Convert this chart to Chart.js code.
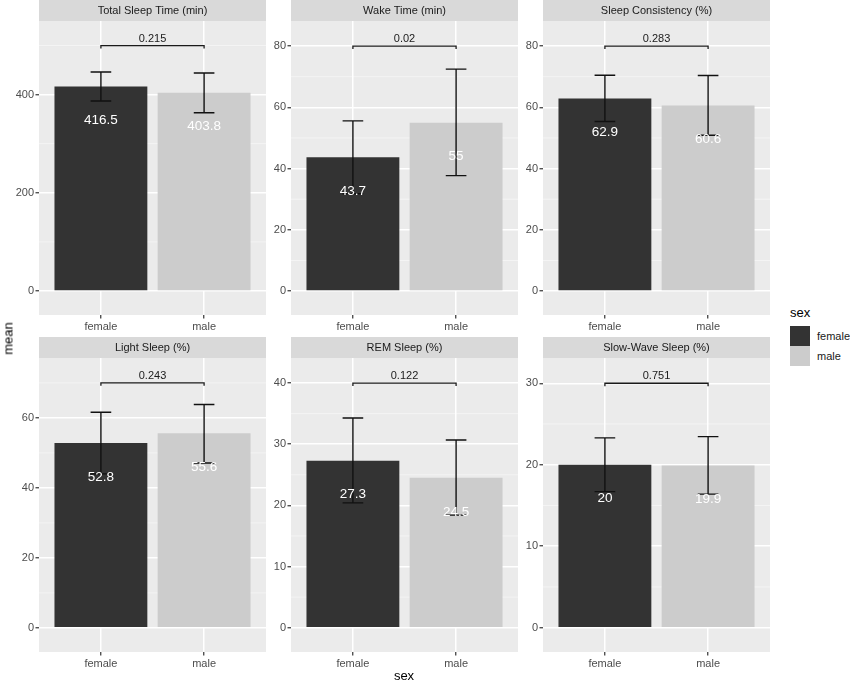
<!DOCTYPE html>
<html><head><meta charset="utf-8">
<script src="https://cdn.jsdelivr.net/npm/chart.js@4/dist/chart.umd.min.js"></script>
<style>
html,body{margin:0;padding:0;background:#fff;}
body{width:850px;height:683px;overflow:hidden;position:relative;font-family:"Liberation Sans",Arial,Helvetica,sans-serif;}
canvas{position:absolute;}
.t{position:absolute;white-space:nowrap;}
</style></head><body>
<script>
// ---------- data ----------
const panelTitles = ['Total Sleep Time (min)','Wake Time (min)','Sleep Consistency (%)','Light Sleep (%)','REM Sleep (%)','Slow-Wave Sleep (%)'];
const categories = ['female','male'];
const meanFemale = [416.5, 43.7, 62.9, 52.8, 27.3, 20];
const meanMale   = [403.8, 55, 60.6, 55.6, 24.5, 19.9];
const ciLowFemale  = [387, 31.8, 55.4, 44.0, 20.4, 16.7];
const ciHighFemale = [446, 55.6, 70.5, 61.6, 34.3, 23.3];
const ciLowMale    = [363, 37.7, 50.9, 47.1, 18.4, 16.4];
const ciHighMale   = [444, 72.5, 70.4, 63.8, 30.7, 23.45];
const pValues = ['0.215','0.02','0.283','0.243','0.122','0.751'];
const bracketY = [500, 80, 80, 70, 40, 30];
const yMin = [-49, -7.8, -7.8, -6.9, -3.98, -2.98];
const yMax = [550, 88.2, 88.2, 77.1, 44.1, 33.1];
const yTicks = [[0,200,400],[0,20,40,60,80],[0,20,40,60,80],[0,20,40,60],[0,10,20,30,40],[0,10,20,30]];
const yMinorTicks = [[100,300,500],[10,30,50,70],[10,30,50,70],[10,30,50,70],[5,15,25,35],[5,15,25]];
const labelValues = [['416.5','403.8'],['43.7','55'],['62.9','60.6'],['52.8','55.6'],['27.3','24.5'],['20','19.9']];

// ---------- style ----------
const FEMALE = '#333333', MALE = '#cccccc';
const FONT = '"Liberation Sans", Arial, Helvetica, sans-serif';
Chart.defaults.font.family = FONT;
Chart.defaults.animation = false;

const colLeft = [0, 252, 504];
const rowTop = [0, 337];
const CW = 266, CH = 335;

const facetPlugin = {
  id: 'facet',
  beforeDraw(chart, args, opts) {
    const i = opts.idx;
    const {ctx, chartArea: a, scales: {y}} = chart;
    ctx.save();
    ctx.fillStyle = '#ebebeb';
    ctx.fillRect(a.left, a.top, a.right - a.left, a.bottom - a.top);
    ctx.fillStyle = '#d9d9d9';
    ctx.fillRect(a.left, a.top - 21, a.right - a.left, 21);
    ctx.fillStyle = '#1a1a1a';
    ctx.font = '11px ' + FONT;
    ctx.textAlign = 'center'; ctx.textBaseline = 'middle';
    ctx.fillText(panelTitles[i], (a.left + a.right) / 2, a.top - 10);
    ctx.strokeStyle = '#f6f6f6'; ctx.lineWidth = 0.8;
    yMinorTicks[i].forEach(v => {
      const py = y.getPixelForValue(v);
      ctx.beginPath(); ctx.moveTo(a.left, py); ctx.lineTo(a.right, py); ctx.stroke();
    });
    ctx.restore();
  },
  afterDatasetsDraw(chart, args, opts) {
    const i = opts.idx;
    const {ctx, scales: {x, y}} = chart;
    const lows = [ciLowFemale[i], ciLowMale[i]];
    const highs = [ciHighFemale[i], ciHighMale[i]];
    const means = [meanFemale[i], meanMale[i]];
    ctx.save();
    ctx.strokeStyle = '#111'; ctx.lineWidth = 1.4;
    [1, 2].forEach((cx, k) => {
      const px = x.getPixelForValue(cx);
      const pl = x.getPixelForValue(cx - 0.1), pr = x.getPixelForValue(cx + 0.1);
      const yl = y.getPixelForValue(lows[k]), yh = y.getPixelForValue(highs[k]);
      ctx.beginPath();
      ctx.moveTo(px, yl); ctx.lineTo(px, yh);
      ctx.moveTo(pl, yl); ctx.lineTo(pr, yl);
      ctx.moveTo(pl, yh); ctx.lineTo(pr, yh);
      ctx.stroke();
    });
    // significance bracket
    const b = y.getPixelForValue(bracketY[i]);
    const x1 = x.getPixelForValue(1), x2 = x.getPixelForValue(2);
    ctx.strokeStyle = '#1a1a1a'; ctx.lineWidth = 1.3;
    ctx.beginPath();
    ctx.moveTo(x1, b + 3); ctx.lineTo(x1, b); ctx.lineTo(x2, b); ctx.lineTo(x2, b + 3);
    ctx.stroke();
    ctx.fillStyle = '#1a1a1a';
    ctx.font = '11px ' + FONT;
    ctx.textAlign = 'center'; ctx.textBaseline = 'middle';
    ctx.fillText(pValues[i], (x1 + x2) / 2, b - 7);
    // value labels
    ctx.fillStyle = '#ffffff';
    ctx.font = '13.5px ' + FONT;
    [1, 2].forEach((cx, k) => {
      const px = x.getPixelForValue(cx);
      const top = y.getPixelForValue(means[k]);
      ctx.fillText(labelValues[i][k], px, top + 34);
    });
    ctx.restore();
  }
};

for (let i = 0; i < 6; i++) {
  const cv = document.createElement('canvas');
  cv.width = CW; cv.height = CH;
  cv.style.left = colLeft[i % 3] + 'px';
  cv.style.top = rowTop[Math.floor(i / 3)] + 'px';
  cv.style.width = CW + 'px'; cv.style.height = CH + 'px';
  document.body.appendChild(cv);
  new Chart(cv, {
    type: 'bar',
    data: {
      datasets: [{
        data: [{x: 1, y: meanFemale[i]}, {x: 2, y: meanMale[i]}],
        backgroundColor: [FEMALE, MALE],
        borderWidth: 0,
        barPercentage: 0.9,
        categoryPercentage: 1.0
      }]
    },
    options: {
      responsive: false,
      maintainAspectRatio: false,
      animation: false,
      layout: {padding: {top: 21, left: 0, right: 0, bottom: 0}},
      plugins: {legend: {display: false}, tooltip: {enabled: false}, facet: {idx: i}},
      scales: {
        x: {
          type: 'linear', min: 0.4, max: 2.6, offset: false, bounds: 'data',
          afterBuildTicks: s => { s.ticks = [{value: 1}, {value: 2}]; },
          afterFit: s => { s.height = 20; },
          grid: {offset: false, color: '#ffffff', lineWidth: 1.5, tickColor: '#333333', tickLength: 3.5, tickWidth: 1.2},
          border: {display: false},
          ticks: {color: '#4d4d4d', font: {size: 11}, padding: 1.5, maxRotation: 0,
                  callback: v => categories[Math.round(v) - 1]}
        },
        y: {
          type: 'linear', min: yMin[i], max: yMax[i], bounds: 'data',
          afterBuildTicks: s => { s.ticks = yTicks[i].map(v => ({value: v})); },
          afterFit: s => { s.width = 39; },
          grid: {color: '#ffffff', lineWidth: 1.5, tickColor: '#333333', tickLength: 3.5, tickWidth: 1.2},
          border: {display: false},
          ticks: {color: '#4d4d4d', font: {size: 11}, padding: 1.5, callback: v => String(v)}
        }
      }
    },
    plugins: [facetPlugin]
  });
}
</script>
<div class="t" style="left:-12px;top:332px;width:40px;text-align:center;font-size:13px;line-height:13px;transform:rotate(-90deg);color:#000;">mean</div>
<div class="t" style="left:384px;top:669px;width:40px;text-align:center;font-size:13px;line-height:13px;color:#000;">sex</div>
<div class="t" style="left:790px;top:306px;font-size:13px;line-height:13px;color:#000;">sex</div>
<div style="position:absolute;left:790px;top:326px;width:20px;height:20px;background:#333333;"></div>
<div style="position:absolute;left:790px;top:346px;width:20px;height:20px;background:#cccccc;"></div>
<div class="t" style="left:817px;top:330px;font-size:11px;line-height:12px;color:#1a1a1a;">female</div>
<div class="t" style="left:817px;top:350px;font-size:11px;line-height:12px;color:#1a1a1a;">male</div>
</body></html>
